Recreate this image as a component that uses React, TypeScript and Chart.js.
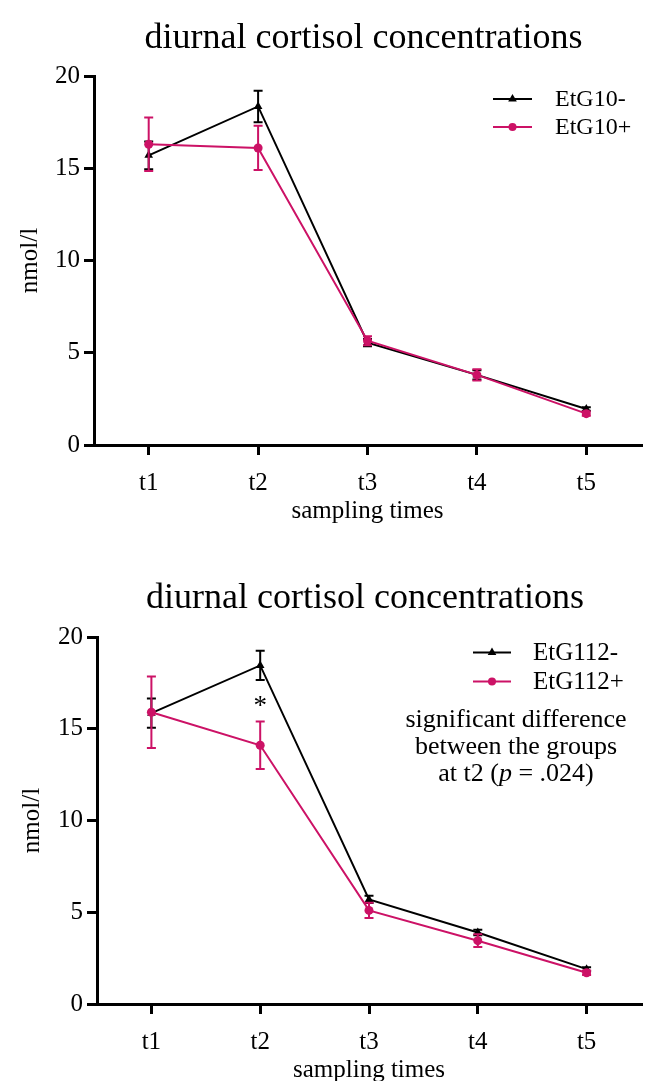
import React, { useEffect, useRef } from "react";
import { Chart, registerables } from "chart.js";

Chart.register(...registerables);

// ---------- data ----------
const categories = ["t1", "t2", "t3", "t4", "t5"];
const yTickStep = 5;
const yMin = 0;
const yMax = 20;

const etg10NegLabel = "EtG10-";
const etg10NegMean = [15.7, 18.35, 5.55, 3.8, 1.95];
const etg10NegSem = [0.75, 0.85, 0.2, 0.25, 0.1];
const etg10PosLabel = "EtG10+";
const etg10PosMean = [16.3, 16.1, 5.65, 3.8, 1.7];
const etg10PosSem = [1.45, 1.2, 0.25, 0.3, 0.12];

const etg112NegLabel = "EtG112-";
const etg112NegMean = [15.85, 18.45, 5.7, 3.9, 1.9];
const etg112NegSem = [0.8, 0.8, 0.2, 0.15, 0.1];
const etg112PosLabel = "EtG112+";
const etg112PosMean = [15.9, 14.1, 5.1, 3.45, 1.7];
const etg112PosSem = [1.95, 1.3, 0.42, 0.35, 0.12];

const titleText = "diurnal cortisol concentrations";
const yTitle = "nmol/l";
const xTitle = "sampling times";
const noteLines = ["significant difference", "between the groups"];
const noteLast = ["at t2 (", "p", " = .024)"];
const starIndex = 1;
const starValue = 16.5;

const BLACK = "#000000";
const PINK = "#CC1266";
const FONT = "'Liberation Serif', 'Times New Roman', serif";

type Layout = {
  height: number;
  padTop: number;
  padRight: number;
  padBottom: number;
  yWidth: number;
  xHeight: number;
  yTitlePad: number;
  titleY: number;
  legend: { x0: number; x1: number; tx: number; y: number; dy: number; size: number };
  note?: { cx: number; y: number; dy: number; size: number };
};

function drawMarker(ctx: CanvasRenderingContext2D, style: string, x: number, y: number, r: number, color: string) {
  ctx.save();
  ctx.fillStyle = color;
  ctx.beginPath();
  if (style === "triangle") {
    let rad = 0;
    ctx.moveTo(x + Math.sin(rad) * r, y - Math.cos(rad) * r);
    rad += (2 * Math.PI) / 3;
    ctx.lineTo(x + Math.sin(rad) * r, y - Math.cos(rad) * r);
    rad += (2 * Math.PI) / 3;
    ctx.lineTo(x + Math.sin(rad) * r, y - Math.cos(rad) * r);
    ctx.closePath();
  } else {
    ctx.arc(x, y, r, 0, Math.PI * 2);
  }
  ctx.fill();
  ctx.restore();
}

const errorBarPlugin = {
  id: "errorBars",
  afterDatasetDraw(chart: any, args: any) {
    const ds: any = chart.data.datasets[args.index];
    const errs: number[] = ds.errors;
    if (!errs) return;
    const yScale = chart.scales.y;
    const ctx = chart.ctx;
    ctx.save();
    ctx.strokeStyle = ds.borderColor;
    ctx.lineWidth = 2;
    args.meta.data.forEach((el: any, i: number) => {
      const v = ds.data[i];
      const e = errs[i];
      const yt = yScale.getPixelForValue(v + e);
      const yb = yScale.getPixelForValue(v - e);
      const x = el.x;
      const cw = 4.5;
      ctx.beginPath();
      ctx.moveTo(x, yt);
      ctx.lineTo(x, yb);
      ctx.moveTo(x - cw, yt);
      ctx.lineTo(x + cw, yt);
      ctx.moveTo(x - cw, yb);
      ctx.lineTo(x + cw, yb);
      ctx.stroke();
    });
    ctx.restore();
  },
};

function makeDecor(L: Layout, withNote: boolean) {
  return {
    id: "decor",
    afterDraw(chart: any) {
      const ctx: CanvasRenderingContext2D = chart.ctx;
      const ca = chart.chartArea;
      ctx.save();
      // title
      ctx.fillStyle = BLACK;
      ctx.font = `36px ${FONT}`;
      ctx.textAlign = "center";
      ctx.textBaseline = "middle";
      ctx.fillText(titleText, (ca.left + ca.right) / 2 - 4, L.titleY);
      // legend
      const lg = L.legend;
      chart.data.datasets.forEach((ds: any, i: number) => {
        const y = lg.y + i * lg.dy;
        ctx.strokeStyle = ds.borderColor;
        ctx.lineWidth = 2;
        ctx.beginPath();
        ctx.moveTo(lg.x0, y);
        ctx.lineTo(lg.x1, y);
        ctx.stroke();
        drawMarker(ctx, ds.pointStyle, (lg.x0 + lg.x1) / 2, y, ds.pointStyle === "triangle" ? 5 : 4, ds.borderColor);
        ctx.fillStyle = BLACK;
        ctx.font = `${lg.size}px ${FONT}`;
        ctx.textAlign = "left";
        ctx.textBaseline = "middle";
        ctx.fillText(ds.label, lg.tx, y + 1);
      });
      if (withNote && L.note) {
        const n = L.note;
        ctx.fillStyle = BLACK;
        ctx.textBaseline = "middle";
        ctx.textAlign = "center";
        ctx.font = `${n.size}px ${FONT}`;
        noteLines.forEach((t, i) => ctx.fillText(t, n.cx, n.y + i * n.dy));
        // last line with italic p
        const normal = `${n.size}px ${FONT}`;
        const italic = `italic ${n.size}px ${FONT}`;
        ctx.font = normal;
        const w0 = ctx.measureText(noteLast[0]).width;
        const w2 = ctx.measureText(noteLast[2]).width;
        ctx.font = italic;
        const w1 = ctx.measureText(noteLast[1]).width;
        const total = w0 + w1 + w2;
        let x = n.cx - total / 2;
        const y = n.y + noteLines.length * n.dy;
        ctx.textAlign = "left";
        ctx.font = normal;
        ctx.fillText(noteLast[0], x, y);
        x += w0;
        ctx.font = italic;
        ctx.fillText(noteLast[1], x, y);
        x += w1;
        ctx.font = normal;
        ctx.fillText(noteLast[2], x, y);
        // asterisk
        const xs = chart.scales.x.getPixelForValue(starIndex);
        const ys = chart.scales.y.getPixelForValue(starValue);
        ctx.font = `27px ${FONT}`;
        ctx.textAlign = "center";
        ctx.textBaseline = "alphabetic";
        ctx.fillText("*", xs, ys + 13);
      }
      ctx.restore();
    },
  };
}

function buildConfig(
  L: Layout,
  neg: { label: string; mean: number[]; sem: number[] },
  pos: { label: string; mean: number[]; sem: number[] },
  withNote: boolean
): any {
  return {
    type: "line",
    data: {
      labels: categories,
      datasets: [
        {
          label: neg.label,
          data: neg.mean,
          errors: neg.sem,
          borderColor: BLACK,
          backgroundColor: BLACK,
          borderWidth: 2,
          pointStyle: "triangle",
          pointRadius: 5,
          pointBorderWidth: 0,
          tension: 0,
          order: 1,
        },
        {
          label: pos.label,
          data: pos.mean,
          errors: pos.sem,
          borderColor: PINK,
          backgroundColor: PINK,
          borderWidth: 2,
          pointStyle: "circle",
          pointRadius: 4.5,
          pointBorderWidth: 0,
          tension: 0,
          order: 0,
        },
      ],
    },
    options: {
      animation: false,
      responsive: false,
      devicePixelRatio: 1,
      layout: { padding: { top: L.padTop, left: 0, right: L.padRight, bottom: L.padBottom } },
      plugins: {
        legend: { display: false },
        title: { display: false },
        tooltip: { enabled: false },
      },
      scales: {
        x: {
          type: "category",
          offset: true,
          grid: { drawOnChartArea: false, drawTicks: true, tickLength: 10, lineWidth: 3, color: BLACK, offset: false },
          border: { display: true, width: 3, color: BLACK },
          ticks: { color: BLACK, font: { family: FONT, size: 25 }, padding: 13, autoSkip: false, maxRotation: 0 },
          title: { display: true, text: xTitle, color: BLACK, font: { family: FONT, size: 25 }, padding: { top: 0, bottom: 4 } },
          afterFit: (s: any) => {
            s.height = L.xHeight;
          },
        },
        y: {
          min: yMin,
          max: yMax,
          grid: { drawOnChartArea: false, drawTicks: true, tickLength: 10, lineWidth: 3, color: BLACK },
          border: { display: true, width: 3, color: BLACK },
          ticks: { stepSize: yTickStep, color: BLACK, font: { family: FONT, size: 25 }, padding: 4 },
          title: { display: true, text: yTitle, color: BLACK, font: { family: FONT, size: 25 }, padding: { top: L.yTitlePad, bottom: 0 } },
          afterFit: (s: any) => {
            s.width = L.yWidth;
          },
        },
      },
    },
    plugins: [errorBarPlugin, makeDecor(L, withNote)],
  };
}

const layoutTop: Layout = {
  height: 540,
  padTop: 76,
  padRight: 2,
  padBottom: 10,
  yWidth: 94,
  xHeight: 85,
  yTitlePad: 15,
  titleY: 39,
  legend: { x0: 493, x1: 532, tx: 555, y: 99, dy: 28, size: 24 },
};

const layoutBottom: Layout = {
  height: 560,
  padTop: 97,
  padRight: 0,
  padBottom: 11,
  yWidth: 97,
  xHeight: 85,
  yTitlePad: 17,
  titleY: 599 - 540,
  legend: { x0: 473, x1: 511, tx: 533, y: 112.5, dy: 29, size: 25 },
  note: { cx: 516, y: 180, dy: 27, size: 26 },
};

function ChartCanvas({ L, config, top }: { L: Layout; config: any; top: number }) {
  const ref = useRef<HTMLCanvasElement | null>(null);
  useEffect(() => {
    if (!ref.current) return;
    const chart = new Chart(ref.current, config);
    return () => chart.destroy();
  }, []);
  return (
    <canvas
      ref={ref}
      width={646}
      height={L.height}
      style={{ position: "absolute", left: 0, top, width: 646, height: L.height, display: "block" }}
    />
  );
}

export default function App() {
  const cfgTop = buildConfig(
    layoutTop,
    { label: etg10NegLabel, mean: etg10NegMean, sem: etg10NegSem },
    { label: etg10PosLabel, mean: etg10PosMean, sem: etg10PosSem },
    false
  );
  const cfgBottom = buildConfig(
    layoutBottom,
    { label: etg112NegLabel, mean: etg112NegMean, sem: etg112NegSem },
    { label: etg112PosLabel, mean: etg112PosMean, sem: etg112PosSem },
    true
  );
  return (
    <div
      style={{
        position: "absolute",
        left: 0,
        top: 0,
        width: 646,
        height: 1081,
        overflow: "hidden",
        background: "#ffffff",
      }}
    >
      <ChartCanvas L={layoutTop} config={cfgTop} top={0} />
      <ChartCanvas L={layoutBottom} config={cfgBottom} top={540} />
    </div>
  );
}
